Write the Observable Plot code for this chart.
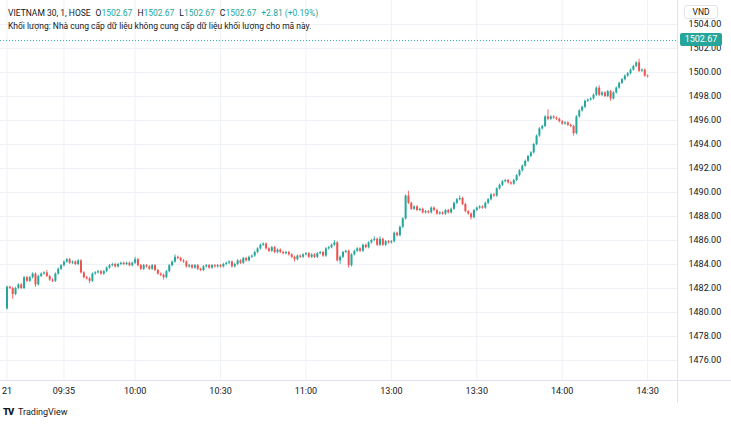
<!DOCTYPE html>
<html><head><meta charset="utf-8">
<script src="https://cdn.jsdelivr.net/npm/d3@7"></script>
<script src="https://cdn.jsdelivr.net/npm/@observablehq/plot@0.6"></script>
<style>
body{margin:0;background:#fff;font-family:Roboto,"Noto Sans",sans-serif;color:#131722;}
#wrap{position:relative;width:731px;height:426px;overflow:hidden;background:#fff}
#hdr{position:absolute;left:8px;top:7px;font-size:8.5px;line-height:12.5px;white-space:nowrap;color:#131722}
#hdr .v{color:#26a69a}
#hdr .g{display:inline-block;width:5px}
#vnd{position:absolute;left:684px;top:5px;width:32px;height:12px;border:1px solid #e0e3eb;border-radius:3px;font-size:8.5px;line-height:12px;text-align:center;color:#131722;background:#fff}
#badge{position:absolute;left:680px;width:42px;height:13px;background:#26a69a;color:#fff;font-size:9px;line-height:13px;text-align:center;border-radius:2px}
#logo{position:absolute;left:3px;top:406px;font-size:9px;line-height:12px;color:#131722;white-space:nowrap}
#logo b{display:inline-block;width:15px;font-weight:900;letter-spacing:-1px;font-size:9.5px}
</style></head><body><div id="wrap"></div>
<script>
// ---- data (1-minute candles, index 0 = 09:15, lunch break removed) ----
const firstOpen = 1480.3;
const closes = [
1482.1,1482.0,1481.5,1482.0,1482.3,1482.0,1482.9,1482.6,1482.9,1483.2,1482.3,1483.0,1483.2,1483.3,1483.0,
1482.7,1482.6,1483.2,1483.6,1483.9,1484.2,1484.4,1484.1,1484.2,1484.0,1484.3,1483.3,1482.9,1482.8,1482.6,
1483.2,1483.3,1483.4,1483.2,1483.4,1483.7,1483.9,1484.0,1483.8,1484.0,1484.1,1484.0,1484.1,1483.9,1484.1,
1484.4,1483.9,1483.6,1483.9,1483.8,1483.6,1483.9,1483.5,1483.2,1483.1,1482.9,1483.4,1483.9,1484.2,1484.6,
1484.5,1484.3,1484.2,1483.8,1483.9,1483.7,1483.9,1483.6,1483.5,1483.8,1483.9,1483.7,1483.9,1483.8,1483.9,
1483.8,1484.0,1484.1,1484.2,1483.8,1484.0,1484.3,1484.1,1484.5,1484.3,1484.6,1484.7,1485.0,1485.3,1485.6,
1485.7,1485.3,1485.1,1485.4,1485.0,1485.2,1485.0,1484.9,1485.0,1484.8,1484.6,1484.4,1484.7,1484.6,1484.8,
1484.9,1484.6,1484.8,1484.6,1484.9,1485.0,1484.7,1485.3,1485.4,1485.6,1485.8,1484.3,1484.6,1485.0,1485.1,
1483.9,1484.8,1485.1,1485.3,1485.1,1485.6,1485.4,1485.8,1486.0,1486.1,1485.6,1486.1,1485.6,1485.9,1485.8,
1485.9,1486.6,1486.4,1487.1,1487.8,1489.7,1489.1,1488.6,1488.8,1488.5,1488.6,1488.3,1488.4,1488.3,1488.7,
1488.5,1488.2,1488.3,1488.2,1488.5,1488.3,1488.6,1489.1,1489.4,1489.5,1489.0,1488.4,1488.2,1487.9,1488.5,
1488.7,1488.8,1488.7,1489.1,1489.4,1489.8,1489.7,1490.3,1490.6,1490.9,1491.0,1490.8,1490.7,1491.0,1491.4,
1491.8,1492.2,1492.6,1493.0,1493.3,1494.0,1494.7,1495.3,1495.5,1496.3,1496.1,1496.3,1496.2,1496.1,1495.9,
1495.7,1495.8,1495.6,1495.5,1494.9,1496.3,1496.8,1497.1,1497.6,1497.7,1497.8,1498.1,1498.7,1498.1,1498.3,
1498.0,1498.4,1497.8,1498.3,1498.7,1499.1,1499.4,1499.7,1499.9,1500.2,1500.5,1500.8,1500.1,1500.2,1499.7,1499.65
];
// upper / lower shadow lengths in tenths of a point
const wickHi = [
1,1,1,1,1,1,1,1,1,1,1,1,1,1,2, 1,1,1,1,1,1,1,1,1,1,1,1,1,1,1, 1,1,1,1,1,1,1,1,1,1,1,1,1,1,1,
2,1,1,1,1,1,1,1,1,1,1,1,1,1,2, 1,1,1,1,1,1,1,1,1,1,1,1,1,1,1, 1,1,1,1,1,1,1,1,1,1,1,1,1,1,1,
1,1,1,1,1,1,1,1,1,1,1,1,1,1,1, 1,1,1,1,1,1,1,1,1,1,2,1,1,1,1, 1,1,1,1,1,1,1,1,1,2,1,2,1,1,1,
1,1,1,1,1,1,4,1,1,1,1,1,1,1,1, 1,1,1,1,1,1,1,1,1,2,1,1,1,1,1, 1,1,1,1,1,1,1,1,1,1,1,1,1,1,1,
1,1,1,1,1,1,1,1,1,1,6,1,1,1,1, 1,1,1,1,1,1,1,1,1,1,1,1,1,2,1, 1,1,1,1,1,1,1,1,1,1,1,1,3,1,1,1
];
const wickLo = [
1,1,4,1,1,1,1,1,1,1,2,1,1,1,1, 1,1,1,1,1,1,1,1,1,1,1,1,1,1,2, 1,1,1,1,1,1,1,1,1,1,1,1,1,1,1,
1,1,1,1,1,1,1,1,1,1,2,1,1,1,1, 1,1,1,1,1,1,1,1,1,1,1,1,1,1,1, 1,1,1,1,1,1,1,1,1,1,1,1,1,1,1,
1,1,1,1,1,1,1,1,1,1,1,2,1,1,1, 1,1,1,1,1,1,1,1,1,1,1,1,3,1,1, 2,1,1,1,1,1,1,1,1,1,1,1,1,1,1,
1,1,1,1,1,1,1,1,1,1,1,1,1,1,1, 1,1,1,1,1,1,1,1,1,1,1,1,1,2,1, 1,1,1,1,1,1,1,1,1,1,1,1,1,1,1,
1,1,1,1,1,1,1,1,1,1,1,1,1,1,1, 1,1,1,1,2,1,1,1,1,1,1,1,1,1,1, 1,1,2,1,1,1,1,1,1,1,1,1,1,1,1,1
];
const timeTickIdx = [0,20,45,75,105,135,165,195,225];
const timeTickLabels = ["21","09:35","10:00","10:30","11:00","13:00","13:30","14:00","14:30"];
const priceTicks = [1476,1478,1480,1482,1484,1486,1488,1490,1492,1494,1496,1498,1500,1502,1504];
const lastPrice = 1502.67;
const symbolText = "VIETNAM 30, 1, HOSE";
const ohlcLabels = ["O","H","L","C"];
const ohlcValues = ["1502.67","1502.67","1502.67","1502.67"];
const changeText = "+2.81 (+0.19%)";
const volumeNote = "Khối lượng: Nhà cung cấp dữ liệu không cung cấp dữ liệu khối lượng cho mã này.";

// ---- build ----
const teal = "#26a69a", red = "#ef5350";
const candles = closes.map((c, i) => {
  const o = i === 0 ? firstOpen : closes[i - 1];
  return {i, o, c, h: Math.max(o, c) + wickHi[i] / 10, l: Math.min(o, c) - wickLo[i] / 10, up: c >= o};
});
const xDom = [-2.283, 235.5], yDom = [1474.33, 1506];
const grid = "#eef1f6", border = "#e0e3eb";

const chart = Plot.plot({
  width: 731, height: 403,
  marginLeft: 0, marginRight: 54, marginTop: 0, marginBottom: 23,
  style: {fontFamily: "Roboto, 'Noto Sans', sans-serif", fontSize: "9px", color: "#131722", background: "transparent"},
  x: {type: "linear", domain: xDom, axis: null, label: null},
  y: {domain: yDom, axis: null, label: null},
  marks: [
    Plot.ruleY(priceTicks, {stroke: grid, strokeOpacity: 1}),
    Plot.ruleX(timeTickIdx, {stroke: grid, strokeOpacity: 1}),
    Plot.ruleY([lastPrice], {stroke: teal, strokeDasharray: "1,2", strokeOpacity: 0.9}),
    Plot.ruleX(candles, {x: "i", y1: "l", y2: "h", stroke: d => d.up ? teal : red, strokeWidth: 1, strokeOpacity: 0.85}),
    Plot.ruleX(candles, {x: "i", y1: "o", y2: "c", stroke: d => d.up ? teal : red, strokeWidth: 2, strokeOpacity: 1}),
    Plot.ruleY([yDom[0]], {x1: xDom[0], x2: 260, stroke: border}),
    Plot.ruleX([xDom[1]], {y1: yDom[1], y2: 1472.4, stroke: border}),
    Plot.axisY(priceTicks, {anchor: "right", label: null, tickSize: 0, tickPadding: 11, tickFormat: d3.format(".2f"), fill: "#131722"}),
    Plot.axisX(timeTickIdx, {anchor: "bottom", label: null, tickSize: 0, tickPadding: 7, tickFormat: d => timeTickLabels[timeTickIdx.indexOf(d)], fill: "#131722"})
  ]
});
const wrap = document.getElementById("wrap");
wrap.appendChild(chart);

const hdr = document.createElement("div");
hdr.id = "hdr";
let h1 = symbolText + '<span class="g"></span>';
ohlcLabels.forEach((l, k) => { h1 += l + '<span class="v">' + ohlcValues[k] + '</span><span class="g"></span>'; });
h1 += '<span class="v">' + changeText + "</span>";
hdr.innerHTML = h1 + "<br>" + volumeNote;
wrap.appendChild(hdr);

const vnd = document.createElement("div");
vnd.id = "vnd"; vnd.textContent = "VND";
wrap.appendChild(vnd);

const badge = document.createElement("div");
badge.id = "badge"; badge.textContent = lastPrice.toFixed(2);
badge.style.top = (chart.scale("y").apply(lastPrice) - 6.5) + "px";
wrap.appendChild(badge);

const logo = document.createElement("div");
logo.id = "logo"; logo.innerHTML = "<b>TV</b>TradingView";
wrap.appendChild(logo);
</script></body></html>
